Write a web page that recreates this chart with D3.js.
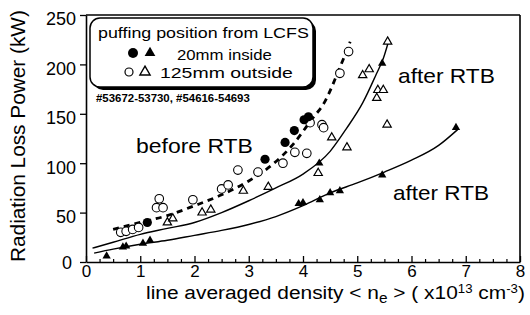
<!DOCTYPE html>
<html>
<head>
<meta charset="utf-8">
<script src="https://cdn.jsdelivr.net/npm/d3@7"></script>
<style>
  body { margin: 0; background: #fff; }
  svg { font-family: "Liberation Sans", Arial, Helvetica, sans-serif; }
</style>
</head>
<body>
<svg id="chart" width="530" height="315"></svg>
<script>
// DATA: points, [density, power]
const openCircles = [[0.64, 30], [0.74, 31], [0.86, 33], [0.97, 35], [1.3, 55], [1.35, 64], [1.42, 55],
  [1.97, 63], [2.5, 74], [2.62, 78], [2.8, 93], [3.17, 91], [3.63, 100], [3.85, 111], [4.07, 110],
  [4.13, 141], [4.35, 139], [4.38, 136], [4.68, 191], [4.84, 213]];
const filledCircles = [[1.13, 40], [3.3, 104], [3.67, 121], [3.84, 133], [4.02, 144], [4.1, 147]];
const openTriangles = [[1.5, 40], [1.6, 44], [2.14, 50], [2.3, 53], [2.9, 72], [3.36, 76], [4.28, 90],
  [4.53, 126], [4.81, 116], [5.1, 189], [5.22, 195], [5.36, 166], [5.38, 174], [5.48, 174],
  [5.55, 139], [5.56, 223]];
const filledTriangles = [[0.38, 6], [0.68, 15], [0.74, 16], [1.05, 19], [1.18, 22], [3.92, 59], [4.0, 60],
  [4.31, 63], [4.5, 70], [4.68, 72], [5.46, 88], [6.82, 136], [4.3, 100], [5.46, 201]];

// fitted curves as drawn in the figure
const beforeCurve = [[0.5, 33], [1.0, 40], [1.5, 47], [2.0, 57], [2.5, 68], [3.0, 82], [3.4, 97],
  [3.8, 118], [4.17, 145], [4.4, 162], [4.53, 177], [4.65, 193], [4.8, 213], [4.87, 223]];
const afterOutCurve = [[0.12, 14], [0.5, 20], [1.0, 28], [1.5, 34], [2.0, 40], [2.5, 50], [3.0, 62],
  [3.5, 75], [4.0, 89], [4.5, 112], [4.8, 135], [5.1, 161], [5.35, 190], [5.48, 206], [5.57, 222]];
const afterInCurve = [[0.15, 9], [0.5, 13], [1.0, 18], [1.5, 22], [2.0, 27], [2.5, 32], [3.0, 38],
  [3.5, 46], [4.0, 57], [4.5, 70], [5.0, 80], [5.5, 91], [6.0, 103], [6.5, 118], [6.85, 134]];

const xTicks = [0, 1, 2, 3, 4, 5, 6, 7, 8];
const yTicks = [0, 50, 100, 150, 200, 250];

// SETUP
const svg = d3.select("#chart");
const plot = { left: 86, right: 520, top: 15, bottom: 262 };

const x = d3.scaleLinear().domain([0, 8]).range([plot.left, plot.right]);
const y = d3.scaleLinear().domain([0, 250]).range([plot.bottom, plot.top]);

// helper: text squeezed/stretched to the width seen in the scan
function wideText(g, str, px, py, size, width, opts = {}) {
  const t = g.append("text")
    .attr("font-size", size)
    .attr("font-weight", opts.weight || "normal")
    .attr("fill", "#000");
  if (typeof str === "function") str(t); else t.text(str);
  const w = t.node().getComputedTextLength();
  const rot = opts.rotate ? ` rotate(${opts.rotate})` : "";
  t.attr("transform", `translate(${px},${py})${rot} scale(${width / w},1)`);
  return t;
}

// FRAME
svg.append("line")
  .attr("x1", x(0)).attr("x2", x(8)).attr("y1", y(250)).attr("y2", y(250))
  .attr("stroke", "#000").attr("stroke-width", 1.6);
svg.append("line")
  .attr("x1", x(8)).attr("x2", x(8)).attr("y1", y(250)).attr("y2", y(0))
  .attr("stroke", "#000").attr("stroke-width", 1.6);

// AXES
const minorX = d3.range(0, 8.001, 0.25).filter(d => Math.abs(d - Math.round(d)) > 0.01);
svg.append("g")
  .attr("transform", `translate(0,${y(0)})`)
  .call(d3.axisBottom(x).tickValues(minorX).tickSize(-3).tickFormat(""))
  .call(g => g.select(".domain").remove())
  .call(g => g.selectAll("line").attr("stroke-width", 1.2));

const xAxis = svg.append("g")
  .attr("transform", `translate(0,${y(0)})`)
  .call(d3.axisBottom(x).tickValues(xTicks).tickSize(-6).tickSizeOuter(0).tickPadding(3));
xAxis.select(".domain").attr("stroke-width", 1.6);
xAxis.selectAll("line").attr("stroke-width", 1.3);
xAxis.selectAll("text")
  .attr("font-size", 17).attr("font-family", "Liberation Sans, Arial, sans-serif").attr("fill", "#000");

const yAxis = svg.append("g")
  .attr("transform", `translate(${x(0)},0)`)
  .call(d3.axisLeft(y).tickValues(yTicks).tickSize(6).tickSizeOuter(0).tickPadding(4)
    .tickFormat(d => d === 0 ? "" : d));
yAxis.select(".domain").attr("stroke-width", 1.6);
yAxis.selectAll("line").attr("stroke-width", 1.3);
yAxis.selectAll("text")
  .attr("font-size", 18).attr("font-family", "Liberation Sans, Arial, sans-serif")
  .attr("fill", "#000").attr("dy", "0.55em");

svg.append("text")
  .attr("x", x(0) - 19).attr("y", y(0) + 7)
  .attr("font-size", 18).attr("text-anchor", "middle")
  .text("0");

// AXIS TITLES
wideText(svg, t => {
  t.append("tspan").text("line averaged density < n");
  t.append("tspan").attr("font-size", 14).attr("dy", 4).text("e");
  t.append("tspan").attr("dy", -4).text(" >  ( x10");
  t.append("tspan").attr("font-size", 12).attr("dy", -6).text("13");
  t.append("tspan").attr("dy", 6).text(" cm");
  t.append("tspan").attr("font-size", 12).attr("dy", -6).text("-3");
  t.append("tspan").attr("dy", 6).text(")");
}, 146, 299, 19, 379);

wideText(svg, "Radiation Loss Power  (kW)", 25, 262, 20, 252, { rotate: -90 });

// CURVES
const line = d3.line()
  .x(d => x(d[0]))
  .y(d => y(d[1]))
  .curve(d3.curveMonotoneX);

svg.append("path").datum(afterInCurve)
  .attr("d", line).attr("fill", "none").attr("stroke", "#000").attr("stroke-width", 1.4);
svg.append("path").datum(afterOutCurve)
  .attr("d", line).attr("fill", "none").attr("stroke", "#000").attr("stroke-width", 1.4);
svg.append("path").datum(beforeCurve)
  .attr("d", line).attr("fill", "none").attr("stroke", "#000")
  .attr("stroke-width", 2.8).attr("stroke-dasharray", "6,5");

// MARKERS
const tri = d3.symbol().type(d3.symbolTriangle);

svg.selectAll(".oc").data(openCircles).join("circle")
  .attr("cx", d => x(d[0])).attr("cy", d => y(d[1])).attr("r", 4.3)
  .attr("fill", "#fff").attr("stroke", "#000").attr("stroke-width", 1.1);
svg.selectAll(".fc").data(filledCircles).join("circle")
  .attr("cx", d => x(d[0])).attr("cy", d => y(d[1])).attr("r", 4.6)
  .attr("fill", "#000");
svg.selectAll(".ot").data(openTriangles).join("path")
  .attr("d", tri.size(30)())
  .attr("transform", d => `translate(${x(d[0])},${y(d[1])})`)
  .attr("fill", "#fff").attr("stroke", "#000").attr("stroke-width", 1.2);
svg.selectAll(".ft").data(filledTriangles).join("path")
  .attr("d", tri.size(30)())
  .attr("transform", d => `translate(${x(d[0])},${y(d[1])})`)
  .attr("fill", "#000");

// CURVE LABELS
wideText(svg, "before RTB", 136, 153, 20, 117);
wideText(svg, "after RTB", 398, 83, 20, 97);
wideText(svg, "after RTB", 393, 200, 20, 96);

// LEGEND
const leg = svg.append("g");
leg.append("rect")
  .attr("x", 93).attr("y", 21).attr("width", 223).attr("height", 69).attr("rx", 10)
  .attr("fill", "#000");
leg.append("rect")
  .attr("x", 90).attr("y", 18).attr("width", 223).attr("height", 69).attr("rx", 10)
  .attr("fill", "#fff").attr("stroke", "#000").attr("stroke-width", 1.5);

wideText(leg, "puffing position from LCFS", 98, 38, 15, 211);
leg.append("circle").attr("cx", 133).attr("cy", 53).attr("r", 5).attr("fill", "#000");
leg.append("path").attr("d", tri.size(50)()).attr("transform", "translate(150,53)").attr("fill", "#000");
wideText(leg, "20mm inside", 177, 60, 15, 95);
leg.append("circle").attr("cx", 129).attr("cy", 72).attr("r", 4)
  .attr("fill", "#fff").attr("stroke", "#000").attr("stroke-width", 1.2);
leg.append("path").attr("d", tri.size(45)()).attr("transform", "translate(145,72)")
  .attr("fill", "#fff").attr("stroke", "#000").attr("stroke-width", 1.4);
wideText(leg, "125mm outside", 160, 78, 15, 133);

wideText(svg, "#53672-53730, #54616-54693", 96, 102, 10.5, 154, { weight: "bold" });
</script>
</body>
</html>
